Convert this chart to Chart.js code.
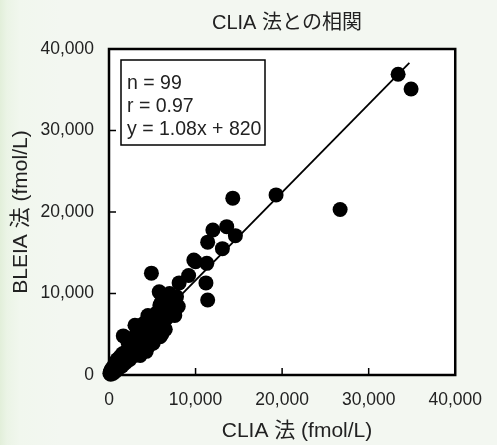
<!DOCTYPE html>
<html><head><meta charset="utf-8">
<script src="https://cdn.jsdelivr.net/npm/chart.js@4"></script>
<style>
html,body{margin:0;padding:0;}
body{width:497px;height:445px;overflow:hidden;background:linear-gradient(to right,#e2efda 0px,#ebf4e6 7px,#f1f7ee 20px,#f3f7f1 60px,#f3f7f1 100%);}
#wrap{position:relative;width:497px;height:445px;}
</style></head><body>
<div id="wrap"><canvas id="c" width="497" height="445"></canvas></div>
<script>
const chartTitle = 'CLIA 法との相関';
const xAxisLabel = 'CLIA 法 (fmol/L)';
const yAxisLabel = 'BLEIA 法 (fmol/L)';
const xTicks = [0, 10000, 20000, 30000, 40000];
const yTicks = [0, 10000, 20000, 30000, 40000];
const statsText = ['n = 99', 'r = 0.97', 'y = 1.08x + 820'];

// CLIA (x) and BLEIA (y) values, fmol/L
const clia = [
  33400, 34900, 26700, 19300, 14300, 14600, 13600, 12000, 11400, 13100,
  9800, 11300, 10000, 9200, 8100, 11200, 11400, 4900, 5800, 7000,
  6100, 7500, 5900,
  100, 150, 200, 250, 300, 350, 400, 450, 500, 550,
  600, 700, 750, 800, 900, 950, 1000, 1100, 1200, 1250,
  1300, 1400, 1500, 1550, 1650, 1700, 1800, 1900, 2000, 2100,
  2200, 2300, 2400, 2500, 2600, 2700, 2800, 2900, 3000, 3000,
  3200, 3600, 3400, 3500, 3600, 3700, 3800, 3900, 4000, 4100,
  4300, 4300, 4400, 4500, 4600, 4700, 4800, 4900, 5000, 5100,
  5200, 5300, 5500, 6100, 5900, 5900, 6000, 6500, 6400, 6600,
  6800, 7000, 7300, 7600, 7800, 8000
];
const bleia = [
  36900, 35100, 20300, 22100, 21700, 17100, 18200, 17800, 16300, 15500,
  14100, 13700, 13900, 12200, 11300, 11300, 9200, 12500, 10200, 10000,
  9000, 7400, 8600,
  200, 400, 100, 600, 300, 800, 500, 200, 900, 650,
  1200, 400, 1000, 1500, 700, 1900, 1200, 1600, 900, 2200,
  1400, 1900, 1100, 2600, 4800, 1700, 2300, 1500, 2900, 2100,
  4000, 2600, 1900, 3600, 2800, 4200, 4600, 2400, 3900, 6100,
  3500, 2400, 5400, 5600, 3900, 3100, 4800, 6000, 6300, 5300,
  2900, 6600, 5000, 7300, 3600, 5900, 4200, 6400, 7000, 3900,
  6100, 4700, 7600, 5000, 4700, 8500, 7000, 5600, 7800, 6900,
  8300, 7500, 8800, 7300, 9600, 8400
];
// regression line end points
const lineX = [0, 34700];
const lineY = [820, 38300];

const FONT = "'Liberation Sans', Arial, 'Noto Sans CJK JP', sans-serif";
const TXT = '#222';

const framePlugin = {
  id: 'frame',
  beforeDatasetsDraw(chart) {
    const {ctx, chartArea: a} = chart;
    ctx.save();
    ctx.fillStyle = '#fff';
    ctx.fillRect(a.left, a.top, a.right - a.left, a.bottom - a.top);
    ctx.restore();
  },
  afterDatasetsDraw(chart) {
    const {ctx, chartArea: a, scales} = chart;
    ctx.save();
    ctx.strokeStyle = '#000';
    ctx.lineWidth = 2.5;
    ctx.strokeRect(a.left, a.top, a.right - a.left, a.bottom - a.top);
    ctx.lineWidth = 1.5;
    ctx.beginPath();
    xTicks.forEach(v => { const p = scales.x.getPixelForValue(v); ctx.moveTo(p, a.bottom); ctx.lineTo(p, a.bottom - 7); });
    yTicks.forEach(v => { const p = scales.y.getPixelForValue(v); ctx.moveTo(a.left, p); ctx.lineTo(a.left + 7, p); });
    ctx.stroke();
    // stats box
    ctx.fillStyle = '#fff';
    ctx.fillRect(121, 60, 144, 85);
    ctx.lineWidth = 1.5;
    ctx.strokeRect(121, 60, 144, 85);
    ctx.fillStyle = TXT;
    ctx.font = "19.5px " + FONT;
    ctx.textAlign = 'left';
    ctx.textBaseline = 'alphabetic';
    const ys = [89, 112, 135];
    statsText.forEach((t, i) => ctx.fillText(t, 127, ys[i]));
    // title
    ctx.font = "20px " + FONT;
    ctx.textAlign = 'center';
    ctx.fillText(chartTitle, 287, 29);
    // x axis title
    ctx.font = "21px " + FONT;
    ctx.fillText(xAxisLabel, 297, 437);
    // y axis title
    ctx.translate(27, 212);
    ctx.rotate(-Math.PI / 2);
    ctx.fillText(yAxisLabel, 0, 0);
    ctx.restore();
  }
};

new Chart(document.getElementById('c'), {
  type: 'scatter',
  data: {
    datasets: [
      {
        type: 'scatter',
        data: clia.map((x, i) => ({x, y: bleia[i]})),
        pointRadius: 7.5, pointHoverRadius: 7.5,
        backgroundColor: '#000', borderColor: '#000', borderWidth: 0,
        clip: false, order: 1
      },
      {
        type: 'line',
        data: lineX.map((x, i) => ({x, y: lineY[i]})),
        borderColor: '#000', borderWidth: 1.8,
        pointRadius: 0, fill: false, tension: 0, order: 2
      }
    ]
  },
  options: {
    responsive: false, animation: false, devicePixelRatio: 1,
    events: [],
    layout: {padding: {top: 49, right: 23, left: 0, bottom: 0}},
    plugins: {legend: {display: false}, tooltip: {enabled: false}, title: {display: false}},
    scales: {
      x: {
        type: 'linear', min: 0, max: 40000,
        afterBuildTicks: s => { s.ticks = xTicks.map(v => ({value: v})); },
        afterFit: s => { s.height = 70; },
        grid: {display: false, drawTicks: false},
        border: {display: false},
        ticks: {padding: 15, color: TXT, font: {family: FONT, size: 17.5}, maxRotation: 0, autoSkip: false,
          callback: v => v.toLocaleString('en-US')}
      },
      y: {
        type: 'linear', min: 0, max: 40000,
        afterBuildTicks: s => { s.ticks = yTicks.map(v => ({value: v})); },
        afterFit: s => { s.width = 109; },
        grid: {display: false, drawTicks: false},
        border: {display: false},
        ticks: {padding: 15, color: TXT, font: {family: FONT, size: 17.5}, autoSkip: false,
          callback: v => v.toLocaleString('en-US')}
      }
    }
  },
  plugins: [framePlugin]
});
</script>
</body></html>
